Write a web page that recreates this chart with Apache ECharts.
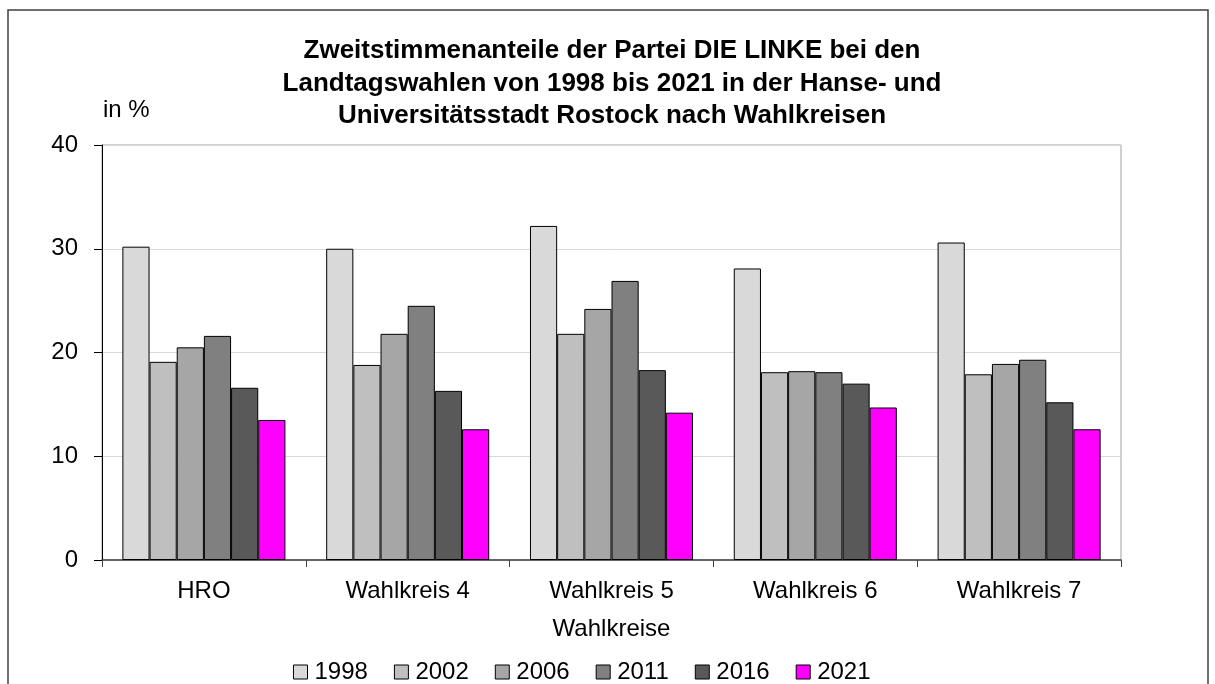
<!DOCTYPE html>
<html>
<head>
<meta charset="utf-8">
<script src="https://cdn.jsdelivr.net/npm/echarts@6/dist/echarts.min.js"></script>
<style>
  html, body { margin: 0; padding: 0; background: #fff; }
  #chart { width: 1215px; height: 684px; }
</style>
</head>
<body>
<div id="chart"></div>
<script>
// Wahlkreise (categories)
var categories = ['HRO', 'Wahlkreis 4', 'Wahlkreis 5', 'Wahlkreis 6', 'Wahlkreis 7'];
// Jahre (legend)
var years = ['1998', '2002', '2006', '2011', '2016', '2021'];
// Zweitstimmenanteile in % je Jahr
var v1998 = [30.2, 30.0, 32.2, 28.1, 30.6];
var v2002 = [19.1, 18.8, 21.8, 18.1, 17.9];
var v2006 = [20.5, 21.8, 24.2, 18.2, 18.9];
var v2011 = [21.6, 24.5, 26.9, 18.1, 19.3];
var v2016 = [16.6, 16.3, 18.3, 17.0, 15.2];
var v2021 = [13.5, 12.6, 14.2, 14.7, 12.6];
var colors = ['#d9d9d9', '#bfbfbf', '#a6a6a6', '#808080', '#595959', '#ff00ff'];

var values = [v1998, v2002, v2006, v2011, v2016, v2021];
var font = 'Liberation Sans, Arial, sans-serif';

var myChart = echarts.init(document.getElementById('chart'));

var series = years.map(function (y, i) {
    return {
        name: y,
        type: 'bar',
        data: values[i],
        barGap: '0%',
        barCategoryGap: '20%',
        itemStyle: { color: colors[i], borderColor: '#000', borderWidth: 1 }
    };
});

var option = {
    animation: false,
    textStyle: { fontFamily: font },
    title: {
        text: 'Zweitstimmenanteile der Partei DIE LINKE bei den\nLandtagswahlen von 1998 bis 2021 in der Hanse- und\nUniversitätsstadt Rostock nach Wahlkreisen',
        left: 607,
        top: 30,
        textAlign: 'center',
        textStyle: { fontFamily: font, fontSize: 26, fontWeight: 'bold', color: '#000', lineHeight: 32.5 }
    },
    graphic: [
        { type: 'rect', shape: { x: 8, y: 10, width: 1200, height: 700 }, style: { fill: 'none', stroke: '#404040', lineWidth: 1.5 }, silent: true },
        { type: 'text', left: 103, top: 98, style: { text: 'in %', font: '24px ' + font, fill: '#000' } }
    ],
    legend: {
        data: years,
        left: 288,
        top: 655,
        itemWidth: 14,
        itemHeight: 14,
        itemGap: 26,
        icon: 'rect',
        itemStyle: { borderColor: '#000', borderWidth: 1 },
        textStyle: { fontFamily: font, fontSize: 24, color: '#000', padding: [0, 0, 0, 2] }
    },
    grid: {
        left: 102, right: 94, top: 145, bottom: 124,
        show: true, borderColor: '#a0a0a0', borderWidth: 1
    },
    xAxis: {
        type: 'category',
        data: categories,
        name: 'Wahlkreise',
        nameLocation: 'middle',
        nameGap: 57,
        nameTextStyle: { fontFamily: font, fontSize: 24, color: '#000' },
        axisLine: { lineStyle: { color: '#404040', width: 1.5 } },
        axisTick: { show: true, length: 7, lineStyle: { color: '#404040' } },
        axisLabel: { fontFamily: font, fontSize: 24, color: '#000', margin: 19 }
    },
    yAxis: {
        type: 'value',
        min: 0, max: 40, interval: 10,
        axisLine: { show: true, lineStyle: { color: '#000', width: 1 } },
        axisTick: { show: true, length: 8, lineStyle: { color: '#000' } },
        axisLabel: { fontFamily: font, fontSize: 24, color: '#000', margin: 24 },
        splitLine: { lineStyle: { color: '#d9d9d9', width: 1 } }
    },
    series: series
};

myChart.setOption(option);
</script>
</body>
</html>
